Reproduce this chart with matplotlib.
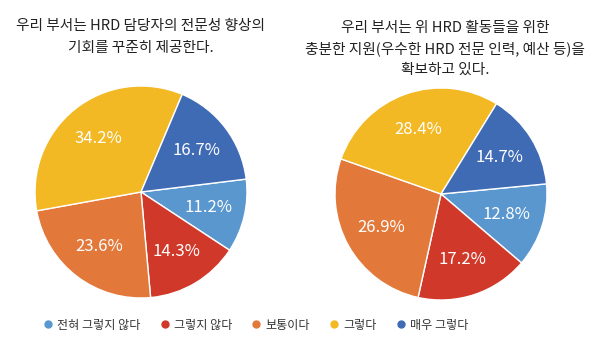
import matplotlib
matplotlib.use("Agg")
import matplotlib.pyplot as plt
from matplotlib.lines import Line2D

plt.rcParams['font.family'] = ['Noto Sans CJK KR', 'DejaVu Sans']

categories = ['전혀 그렇지 않다', '그렇지 않다', '보통이다', '그렇다', '매우 그렇다']
left_values = [11.2, 14.3, 23.6, 34.2, 16.7]
right_values = [12.8, 17.2, 26.9, 28.4, 14.7]
left_title = '우리 부서는 HRD 담당자의 전문성 향상의\n기회를 꾸준히 제공한다.'
right_title = '우리 부서는 위 HRD 활동들을 위한\n충분한 지원(우수한 HRD 전문 인력, 예산 등)을\n확보하고 있다.'
colors = ['#5A97CF', '#D0392A', '#E2793A', '#F3B924', '#3F6BB5']

W, H = 600, 354
fig = plt.figure(figsize=(W / 100, H / 100), dpi=100)
fig.patch.set_facecolor('white')


def pie_axes(cx, cy, r):
    return fig.add_axes([(cx - r) / W, 1 - (cy + r) / H, 2 * r / W, 2 * r / H])


def draw(ax, values, start):
    ax.pie(values, colors=colors, startangle=start, counterclock=False,
           autopct=lambda p: f'{p:.1f}%', pctdistance=0.65,
           wedgeprops=dict(edgecolor='white', linewidth=1.0),
           textprops=dict(color='white', fontsize=12))
    ax.set_xlim(-1, 1)
    ax.set_ylim(-1, 1)
    ax.set_aspect('equal')
    ax.axis('off')


axL = pie_axes(141, 192, 106)
draw(axL, left_values, 7)
axR = pie_axes(441, 194, 106)
draw(axR, right_values, 5.5)

fig.text(141 / W, 1 - 37 / H, left_title, ha='center', va='center',
         fontsize=10.6, color='#222222', linespacing=1.65)
fig.text(445 / W, 1 - 49 / H, right_title, ha='center', va='center',
         fontsize=10.6, color='#222222', linespacing=1.6)

handles = [Line2D([], [], marker='o', linestyle='none', markersize=5,
                  markerfacecolor=c, markeredgecolor=c) for c in colors]
fig.legend(handles, categories, loc='center', bbox_to_anchor=(255 / W, 1 - 325 / H),
           ncol=5, frameon=False, fontsize=8.7, handletextpad=0.25,
           columnspacing=1.5, handlelength=1.0, labelcolor='#333333')

fig.savefig('out.png', dpi=100, facecolor='white')
